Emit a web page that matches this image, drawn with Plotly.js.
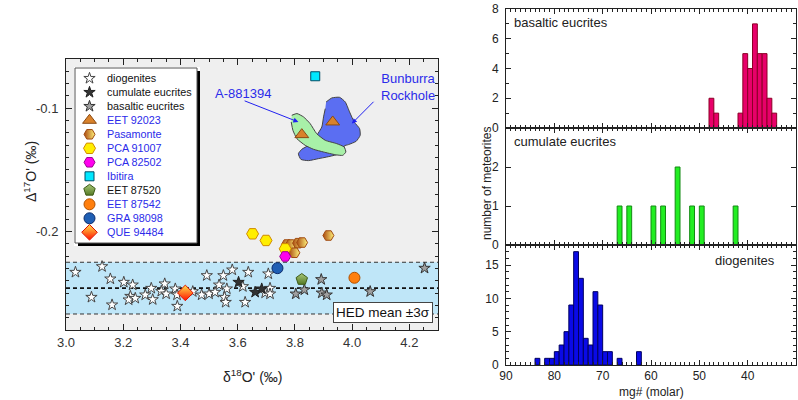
<!DOCTYPE html>
<html><head><meta charset="utf-8">
<script src="https://cdn.plot.ly/plotly-3.0.1.min.js"></script>
<style>html,body{margin:0;padding:0;background:#fff}#chart{width:798px;height:400px}</style>
</head><body><div id="chart"></div>
<script>
// ---------------- DATA: left panel (oxygen isotopes) ----------------
const diogenitesX = [3.033,3.126,3.155,3.202,3.233,3.089,3.161,3.298,3.277,3.303,3.225,3.219,3.242,3.345,3.333,3.350,3.382,3.388,3.389,3.443,
  3.492,3.550,3.581,3.637,3.707,3.618,3.535,3.562,3.474,3.500,3.521,3.554,3.558,3.626,3.696,3.713,3.713];
const diogenitesY = [-0.2331,-0.2285,-0.2385,-0.2412,-0.2434,-0.2534,-0.2596,-0.2461,-0.2515,-0.2553,-0.2526,-0.2555,-0.2542,-0.2425,-0.2485,-0.2507,-0.2466,-0.2515,-0.2607,-0.2488,
  -0.2358,-0.2358,-0.2312,-0.2331,-0.2344,-0.2447,-0.2434,-0.2466,-0.2515,-0.2507,-0.2493,-0.2534,-0.2575,-0.2575,-0.2499,-0.2461,-0.2507];
const cumulateX = [3.603,3.661,3.684];
const cumulateY = [-0.2412,-0.2493,-0.2466];
const basalticX = [3.803,3.833,3.892,3.894,3.911,4.063,4.253];
const basalticY = [-0.2507,-0.2474,-0.2390,-0.2499,-0.2515,-0.2488,-0.2298];

const eet92023X = [3.932,3.824];   const eet92023Y = [-0.1111,-0.1214];
const pasamonteX = [3.772,3.786,3.811,3.825,3.798,3.917];
const pasamonteY = [-0.2106,-0.2106,-0.2095,-0.2090,-0.2173,-0.2033];
const pca91007X = [3.652,3.699,3.766]; const pca91007Y = [-0.2019,-0.2073,-0.2141];
const pca82502X = [3.766];  const pca82502Y = [-0.2203];
const ibitiraX = [3.871];   const ibitiraY = [-0.074];
const eet87520X = [3.824];  const eet87520Y = [-0.2390];
const eet87542X = [4.008];  const eet87542Y = [-0.2376];
const gra98098X = [3.739];  const gra98098Y = [-0.2298];
const que94484X = [3.417];  const que94484Y = [-0.2499];

// outlines of the fields for Bunburra Rockhole and A-881394
const bunburraX = [3.909,3.929,3.956,3.976,3.991,4.007,4.026,4.028,4.014,3.987,3.972,3.972,3.946,3.911,3.882,3.847,3.821,3.812,3.824,3.847,3.876,3.894,3.900,3.906];
const bunburraY = [-0.0949,-0.0916,-0.0911,-0.0949,-0.1030,-0.1111,-0.1165,-0.1220,-0.1268,-0.1295,-0.1306,-0.1355,-0.1377,-0.1396,-0.1409,-0.1425,-0.1415,-0.1369,-0.1333,-0.1301,-0.1220,-0.1152,-0.1070,-0.1003];
const a881394X = [3.789,3.807,3.830,3.853,3.876,3.906,3.946,3.972,3.978,3.967,3.941,3.900,3.865,3.836,3.807,3.793,3.787];
const a881394Y = [-0.1057,-0.1043,-0.1070,-0.1124,-0.1206,-0.1260,-0.1287,-0.1314,-0.1355,-0.1382,-0.1377,-0.1355,-0.1333,-0.1301,-0.1247,-0.1179,-0.1111];

const HED_MEAN = -0.246;
const HED_3SIGMA = 0.021;

// ---------------- DATA: right panels (mg# histograms, bin centres) ----------------
const basalticMg = [47.5,46.5,41.5,40.5,39.5,38.5,37.5,36.5,35.5,34.5];
const basalticCounts = [2,1,1,5,4,7,5,5,2,1];
const cumulateMg = [66.5,64.5,59.5,57.5,54.5,51.5,49.5,42.5];
const cumulateCounts = [1,1,1,1,2,1,1,1];
const diogenitesMg = [83.5,81.5,80.5,79.5,78.5,77.5,76.5,75.5,74.5,73.5,72.5,71.5,70.5,69.5,68.5,66.5,62.5];
const diogenitesCounts = [1,1,1,2,3,5,9,17,13,4,3,11,9,2,2,1,2];

// ---------------- layout helpers ----------------
const W = 798, H = 400;
const pxX = p => p / W;
const pxY = p => 1 - p / H;
const FONT = 'Liberation Sans, Arial, sans-serif';
const BLUE_TXT = '#2b2bea';
const XR = [3.0, 4.3], YR = [-0.28, -0.06];

const series = [
  {name:'diogenites', x:diogenitesX, y:diogenitesY, marker:{symbol:'star', size:8.5, color:'#ffffff', line:{color:'#444', width:1}}, tc:'#111'},
  {name:'cumulate eucrites', x:cumulateX, y:cumulateY, marker:{symbol:'star', size:8.5, color:'#333333', line:{color:'#222', width:1}}, tc:'#111'},
  {name:'basaltic eucrites', x:basalticX, y:basalticY, marker:{symbol:'star', size:8.5, color:'#a0a0a0', line:{color:'#333', width:1}}, tc:'#111'},
  {name:'EET 92023', x:eet92023X, y:eet92023Y, marker:{symbol:'triangle-up', size:12, color:'#d9822b', line:{color:'#8a4a14', width:1}}, tc:BLUE_TXT},
  {name:'Pasamonte', x:pasamonteX, y:pasamonteY, marker:{symbol:'hexagon2', size:11, color:'#a9480f', gradient:{type:'horizontal', color:'#fff27a'}, line:{color:'#a04a10', width:1}}, tc:BLUE_TXT},
  {name:'PCA 91007', x:pca91007X, y:pca91007Y, marker:{symbol:'hexagon2', size:12, color:'#ffee00', line:{color:'#d08a00', width:1}}, tc:BLUE_TXT},
  {name:'PCA 82502', x:pca82502X, y:pca82502Y, marker:{symbol:'hexagon2', size:11, color:'#ff00ee', line:{color:'#9a0090', width:1}}, tc:BLUE_TXT},
  {name:'Ibitira', x:ibitiraX, y:ibitiraY, marker:{symbol:'square', size:9, color:'#00e8ff', line:{color:'#004d66', width:1}}, tc:BLUE_TXT},
  {name:'EET 87520', x:eet87520X, y:eet87520Y, marker:{symbol:'pentagon', size:12, color:'#a8c878', gradient:{type:'vertical', color:'#557a25'}, line:{color:'#3d5a18', width:1}}, tc:'#111'},
  {name:'EET 87542', x:eet87542X, y:eet87542Y, marker:{symbol:'circle', size:11, color:'#ff7f0e', line:{color:'#b05000', width:1}}, tc:BLUE_TXT},
  {name:'GRA 98098', x:gra98098X, y:gra98098Y, marker:{symbol:'circle', size:11, color:'#1f5fb4', line:{color:'#0a2a6a', width:1}}, tc:BLUE_TXT},
  {name:'QUE 94484', x:que94484X, y:que94484Y, marker:{symbol:'diamond', size:12, color:'#ffe04a', gradient:{type:'vertical', color:'#ff1000'}, line:{color:'#e01000', width:1}}, tc:BLUE_TXT}
];

const traces = [];
// fields
traces.push({type:'scatter', x:bunburraX, y:bunburraY, mode:'lines', fill:'toself', fillcolor:'#5b6ef2',
  line:{color:'#444', width:1, shape:'spline', smoothing:0.5}, hoverinfo:'skip', showlegend:false});
traces.push({type:'scatter', x:a881394X, y:a881394Y, mode:'lines', fill:'toself', fillcolor:'#a8f0a8',
  line:{color:'#444', width:1, shape:'spline', smoothing:0.5}, hoverinfo:'skip', showlegend:false});
// points
series.forEach(s => traces.push({type:'scatter', mode:'markers', x:s.x, y:s.y, marker:s.marker, name:s.name, showlegend:false, cliponaxis:false}));

// custom legend (subplot x5/y5 in pixel units of the box)
const LEG = {left:75, top:68, w:122, h:175, shadow:3, pad:1, row0:10.3, rowH:14, symX:14.5, txtX:30};
series.forEach((s, i) => traces.push({type:'scatter', mode:'markers', x:[LEG.symX], y:[LEG.row0 + LEG.rowH*i],
  marker:s.marker, xaxis:'x5', yaxis:'y5', showlegend:false, hoverinfo:'skip', cliponaxis:false}));

// histograms
const barLine = c => ({color:c, width:1});
traces.push({type:'bar', x:basalticMg, y:basalticCounts, width:1, xaxis:'x2', yaxis:'y2', marker:{color:'#e8006a', line:barLine('#8b0025')}, showlegend:false});
traces.push({type:'bar', x:cumulateMg, y:cumulateCounts, width:1, xaxis:'x3', yaxis:'y3', marker:{color:'#22ee22', line:barLine('#138a13')}, showlegend:false});
traces.push({type:'bar', x:diogenitesMg, y:diogenitesCounts, width:1, xaxis:'x4', yaxis:'y4', marker:{color:'#0a0ae6', line:barLine('#000060')}, showlegend:false});

const axCommon = {showgrid:false, zeroline:false, showline:true, linecolor:'#222', linewidth:1, mirror:'ticks',
  ticks:'inside', tickcolor:'#222', fixedrange:true};

const rightX = {domain:[pxX(506), pxX(796)], range:[90,30], tick0:0, dtick:10, ticklen:5,
  minor:{dtick:1, ticks:'inside', ticklen:3, tickcolor:'#222'}};

const layout = {
  width:W, height:H, margin:{l:0, r:0, t:0, b:0}, paper_bgcolor:'#fff', plot_bgcolor:'#fff',
  font:{family:FONT, color:'#222'}, showlegend:false, bargap:0,
  xaxis: Object.assign({}, axCommon, {domain:[pxX(66), pxX(438)], range:XR, anchor:'y', tick0:3, dtick:0.2, tickformat:'.1f',
    ticklen:6, tickfont:{size:13, color:'#333'}, minor:{dtick:0.05, tick0:0, ticks:'inside', ticklen:3, tickcolor:'#222'}}),
  yaxis: Object.assign({}, axCommon, {domain:[pxY(330), pxY(59)], range:YR, anchor:'x', tickmode:'array', tickvals:[-0.2,-0.1], ticktext:['-0.2','-0.1'],
    ticklen:6, ticklabelstandoff:4, tickfont:{size:13, color:'#333'}, minor:{dtick:0.01, tick0:0, ticks:'inside', ticklen:3, tickcolor:'#222'}}),
  xaxis2: Object.assign({}, axCommon, rightX, {anchor:'y2', showticklabels:false}),
  yaxis2: Object.assign({}, axCommon, {domain:[0.68, pxY(9)], range:[0,8], dtick:2, anchor:'x2', ticklen:5, ticklabelstandoff:4, tickfont:{size:12},
    minor:{dtick:1, ticks:'inside', ticklen:3, tickcolor:'#222'}}),
  xaxis3: Object.assign({}, axCommon, rightX, {anchor:'y3', showticklabels:false}),
  yaxis3: Object.assign({}, axCommon, {domain:[pxY(245), 0.68], range:[0,3], tickmode:'array', tickvals:[0,1,2], anchor:'x3', ticklen:5, ticklabelstandoff:4, tickfont:{size:12}}),
  xaxis4: Object.assign({}, axCommon, rightX, {anchor:'y4', tickfont:{size:12}}),
  yaxis4: Object.assign({}, axCommon, {domain:[pxY(365), pxY(245)], range:[0,18], dtick:5, anchor:'x4', ticklen:5, ticklabelstandoff:4, tickfont:{size:12},
    minor:{dtick:1, ticks:'inside', ticklen:3, tickcolor:'#222'}}),
  xaxis5: {domain:[pxX(LEG.left-LEG.pad), pxX(LEG.left+LEG.w+LEG.shadow)], range:[-LEG.pad, LEG.w+LEG.shadow], visible:false, anchor:'y5', fixedrange:true},
  yaxis5: {domain:[pxY(LEG.top+LEG.h+LEG.shadow), pxY(LEG.top-LEG.pad)], range:[LEG.h+LEG.shadow, -LEG.pad], visible:false, anchor:'x5', fixedrange:true},
  shapes: [
    {type:'rect', xref:'x', yref:'y', x0:XR[0], x1:XR[1], y0:YR[0], y1:YR[1], fillcolor:'#efefef', line:{width:0}, layer:'below'},
    {type:'rect', xref:'x', yref:'y', x0:XR[0], x1:XR[1], y0:HED_MEAN-HED_3SIGMA, y1:HED_MEAN+HED_3SIGMA, fillcolor:'#bfe6f8', line:{width:0}, layer:'below'},
    {type:'line', xref:'x', yref:'y', x0:XR[0], x1:XR[1], y0:HED_MEAN+HED_3SIGMA, y1:HED_MEAN+HED_3SIGMA, line:{color:'#333', width:1, dash:'4px,3px'}, layer:'below'},
    {type:'line', xref:'x', yref:'y', x0:XR[0], x1:XR[1], y0:HED_MEAN-HED_3SIGMA, y1:HED_MEAN-HED_3SIGMA, line:{color:'#333', width:1, dash:'4px,3px'}, layer:'below'},
    {type:'line', xref:'x', yref:'y', x0:XR[0], x1:XR[1], y0:HED_MEAN, y1:HED_MEAN, line:{color:'#111', width:1.6, dash:'4px,3px'}, layer:'below'},
    // legend box shadow and box
    {type:'rect', xref:'x5', yref:'y5', x0:LEG.shadow, x1:LEG.w+LEG.shadow, y0:LEG.shadow, y1:LEG.h+LEG.shadow, fillcolor:'#000', line:{width:0}, layer:'below'},
    {type:'rect', xref:'x5', yref:'y5', x0:0, x1:LEG.w, y0:0, y1:LEG.h, fillcolor:'#fff', line:{color:'#555', width:1}, layer:'below'}
  ],
  annotations: []
};

const A = layout.annotations;
series.forEach((s, i) => A.push({xref:'x5', yref:'y5', x:LEG.txtX, y:LEG.row0 + LEG.rowH*i, text:s.name, showarrow:false,
  xanchor:'left', yanchor:'middle', font:{size:10.8, color:s.tc, family:FONT}}));
A.push({xref:'x', yref:'y', x:3.619, y:-0.0878, text:'A-881394', showarrow:false, xanchor:'center', yanchor:'middle', font:{size:13, color:BLUE_TXT}});
A.push({xref:'x', yref:'y', x:4.196, y:-0.0829, text:'Bunburra<br>Rockhole', showarrow:false, xanchor:'center', yanchor:'middle', font:{size:13, color:BLUE_TXT}});
A.push({xref:'x', yref:'y', x:3.812, y:-0.1111, axref:'x', ayref:'y', ax:3.619, ay:-0.0935, text:'', showarrow:true,
  arrowhead:2, arrowsize:1, arrowwidth:1, arrowcolor:'#2020f0'});
A.push({xref:'x', yref:'y', x:3.999, y:-0.1124, axref:'x', ayref:'y', ax:4.080, ay:-0.0935, text:'', showarrow:true,
  arrowhead:2, arrowsize:1, arrowwidth:1, arrowcolor:'#2020f0'});
A.push({xref:'x domain', yref:'y domain', x:1, y:0, xanchor:'right', yanchor:'bottom', xshift:-5, yshift:7,
  text:'HED mean ±3σ', showarrow:false, bgcolor:'#fff', bordercolor:'#444', borderwidth:1, borderpad:2, font:{size:13.5, color:'#111'}});
A.push({xref:'paper', yref:'paper', x:pxX(252), y:pxY(376), xanchor:'center', yanchor:'middle', text:"δ<sup>18</sup>O' (‰)", showarrow:false, font:{size:14, color:'#222'}});
A.push({xref:'paper', yref:'paper', x:pxX(30), y:pxY(172), xanchor:'center', yanchor:'middle', text:"Δ<sup>17</sup>O' (‰)", textangle:-90, showarrow:false, font:{size:14, color:'#222'}});
A.push({xref:'x2 domain', yref:'y2 domain', x:0.02, y:0.89, xanchor:'left', yanchor:'middle', text:'basaltic eucrites', showarrow:false, font:{size:13, color:'#222'}});
A.push({xref:'x3 domain', yref:'y3 domain', x:0.02, y:0.883, xanchor:'left', yanchor:'middle', text:'cumulate eucrites', showarrow:false, font:{size:13, color:'#222'}});
A.push({xref:'x4 domain', yref:'y4 domain', x:0.934, y:0.869, xanchor:'right', yanchor:'middle', text:'diogenites', showarrow:false, font:{size:13, color:'#222'}});
A.push({xref:'paper', yref:'paper', x:pxX(487), y:pxY(184), xanchor:'center', yanchor:'middle', text:'number of meteorites', textangle:-90, showarrow:false, font:{size:12, color:'#222'}});
A.push({xref:'paper', yref:'paper', x:pxX(651), y:pxY(392), xanchor:'center', yanchor:'middle', text:'mg# (molar)', showarrow:false, font:{size:12, color:'#222'}});

Plotly.newPlot('chart', traces, layout, {displayModeBar:false, staticPlot:true});
</script>
</body></html>
